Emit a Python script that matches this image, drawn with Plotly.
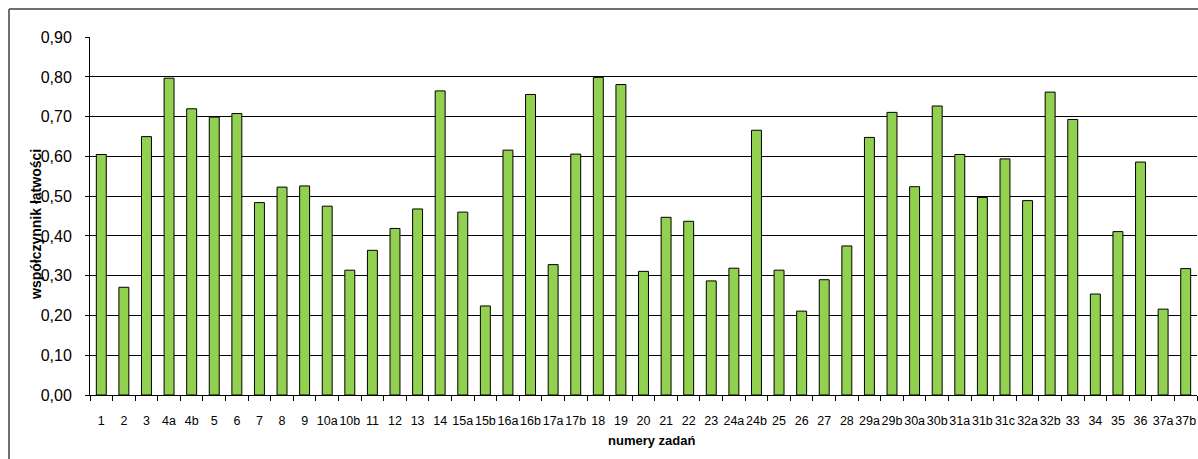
import plotly.graph_objects as go

# Task numbers and their easiness coefficients
zadania = ["1", "2", "3", "4a", "4b", "5", "6", "7", "8", "9", "10a", "10b", "11", "12",
           "13", "14", "15a", "15b", "16a", "16b", "17a", "17b", "18", "19", "20", "21",
           "22", "23", "24a", "24b", "25", "26", "27", "28", "29a", "29b", "30a", "30b",
           "31a", "31b", "31c", "32a", "32b", "33", "34", "35", "36", "37a", "37b"]
latwosc = [0.605, 0.271, 0.650, 0.797, 0.720, 0.699, 0.708, 0.484, 0.523, 0.526, 0.475,
           0.314, 0.364, 0.419, 0.468, 0.765, 0.460, 0.224, 0.616, 0.756, 0.328, 0.606,
           0.799, 0.781, 0.311, 0.447, 0.437, 0.287, 0.319, 0.666, 0.314, 0.211, 0.290,
           0.375, 0.648, 0.711, 0.524, 0.727, 0.605, 0.497, 0.594, 0.489, 0.762, 0.693,
           0.254, 0.411, 0.586, 0.216, 0.318]
y_ticks = [0.0, 0.1, 0.2, 0.3, 0.4, 0.5, 0.6, 0.7, 0.8, 0.9]

W, H = 1198, 459
ML, MR, MT, MB = 90, 1, 37, 64
pw, ph = W - ML - MR, H - MT - MB


def px_x(x):
    return (x - ML) / pw


def px_y(y):
    return (H - MB - y) / ph


fig = go.Figure(go.Bar(
    x=zadania, y=latwosc,
    marker=dict(color="#92D050", line=dict(color="#000000", width=1)),
))

font = "Liberation Sans, Arial, sans-serif"

fig.update_layout(
    width=W, height=H,
    margin=dict(l=ML, r=MR, t=MT, b=MB),
    paper_bgcolor="white", plot_bgcolor="white",
    separators=", ",
    bargap=0.56,
    showlegend=False,
    font=dict(family=font, color="#000000"),
    xaxis=dict(
        type="category",
        showline=True, linecolor="#000000", linewidth=1,
        ticks="outside", tickson="boundaries", ticklen=5, tickcolor="#000000",
        tickangle=0,
        tickfont=dict(size=12.5, family=font),
        ticklabelstandoff=14,
        showgrid=False,
    ),
    yaxis=dict(
        range=[0, 0.9006],
        tickvals=y_ticks, tickformat=".2f",
        showline=True, linecolor="#000000", linewidth=1,
        ticks="outside", ticklen=4, tickcolor="#000000",
        tickfont=dict(size=16, family=font),
        ticklabelstandoff=10,
        showgrid=True, gridcolor="#000000", gridwidth=1,
        zeroline=False,
    ),
)

# Axis titles
fig.add_annotation(text="<b>numery zadań</b>", xref="paper", yref="paper",
                   x=px_x(651), y=px_y(440), showarrow=False,
                   xanchor="center", yanchor="middle",
                   font=dict(size=13, family=font, color="#000000"))
fig.add_annotation(text="<b>współczynnik łatwości</b>", xref="paper", yref="paper",
                   x=px_x(36), y=px_y(225), showarrow=False, textangle=-90,
                   xanchor="center", yanchor="middle",
                   font=dict(size=14, family=font, color="#000000"))

# Chart-area frame: left and top edges
fig.add_shape(type="line", xref="paper", yref="paper",
              x0=px_x(9), x1=px_x(9), y0=px_y(9), y1=-0.5,
              line=dict(color="#6e6e6e", width=2))
fig.add_shape(type="line", xref="paper", yref="paper",
              x0=px_x(9), x1=1.2, y0=px_y(9), y1=px_y(9),
              line=dict(color="#6e6e6e", width=2))

fig.write_html("out.html")
